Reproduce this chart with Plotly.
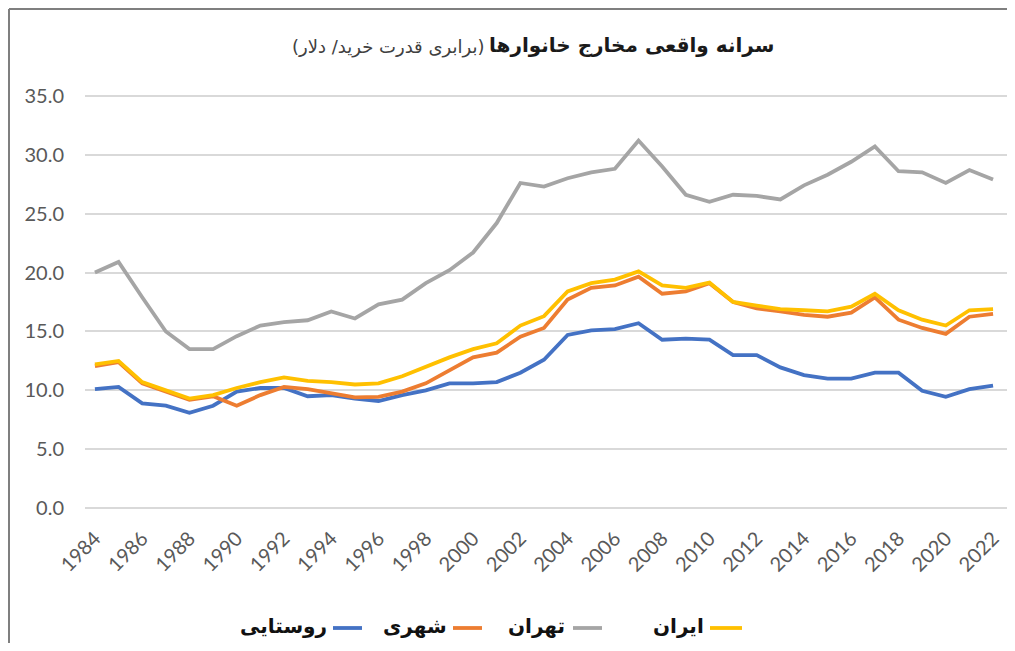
import plotly.graph_objects as go

years = [1984, 1985, 1986, 1987, 1988, 1989, 1990, 1991, 1992, 1993,
         1994, 1995, 1996, 1997, 1998, 1999, 2000, 2001, 2002, 2003,
         2004, 2005, 2006, 2007, 2008, 2009, 2010, 2011, 2012, 2013,
         2014, 2015, 2016, 2017, 2018, 2019, 2020, 2021, 2022]

iran = [12.2, 12.5, 10.7, 10.0, 9.3, 9.6, 10.2, 10.7, 11.1, 10.8,
        10.7, 10.5, 10.6, 11.2, 12.0, 12.8, 13.5, 14.0, 15.5, 16.3,
        18.4, 19.1, 19.4, 20.1, 18.9, 18.7, 19.15, 17.5, 17.2, 16.9,
        16.8, 16.7, 17.1, 18.2, 16.8, 16.0, 15.5, 16.8, 16.9]

tehran = [20.0, 20.9, 17.9, 15.0, 13.5, 13.5, 14.6, 15.5, 15.8, 15.95,
          16.7, 16.1, 17.3, 17.7, 19.1, 20.2, 21.7, 24.2, 27.6, 27.3,
          28.0, 28.5, 28.8, 31.2, 29.0, 26.6, 26.0, 26.6, 26.5, 26.2,
          27.4, 28.3, 29.4, 30.7, 28.6, 28.5, 27.6, 28.7, 27.9]

urban = [12.05, 12.4, 10.6, 9.9, 9.2, 9.5, 8.7, 9.6, 10.3, 10.1,
         9.75, 9.4, 9.45, 9.9, 10.6, 11.7, 12.8, 13.2, 14.55, 15.3,
         17.7, 18.7, 18.9, 19.65, 18.2, 18.4, 19.1, 17.5, 16.95, 16.7,
         16.4, 16.25, 16.6, 17.9, 16.0, 15.3, 14.8, 16.25, 16.5]

rural = [10.1, 10.3, 8.9, 8.7, 8.1, 8.7, 9.9, 10.2, 10.2, 9.5,
         9.6, 9.3, 9.1, 9.6, 10.0, 10.6, 10.6, 10.7, 11.5, 12.6,
         14.7, 15.1, 15.2, 15.7, 14.3, 14.4, 14.3, 13.0, 13.0, 11.95,
         11.3, 11.0, 11.0, 11.5, 11.5, 9.97, 9.46, 10.1, 10.4]

x_ticks = [1984, 1986, 1988, 1990, 1992, 1994, 1996, 1998, 2000, 2002,
           2004, 2006, 2008, 2010, 2012, 2014, 2016, 2018, 2020, 2022]
y_ticks = [0, 5, 10, 15, 20, 25, 30, 35]

colors = {"ایران": "#FFC000", "تهران": "#A5A5A5", "شهری": "#ED7D31", "روستایی": "#4472C4"}
series = {"ایران": iran, "تهران": tehran, "شهری": urban, "روستایی": rural}

title_main = "سرانه واقعی مخارج خانوارها"
title_sub = "(برابری قدرت خرید/ دلار)"

# page has an 8px body margin: figure origin sits at page (8, 8)
OFF = 8
W, H = 999, 635
L, R, T, B = 77, 0, 76, 123
PW, PH = W - L - R, H - T - B


def px(x_page):
    return (x_page - OFF - L) / PW


def py(y_page):
    return (H - B - (y_page - OFF)) / PH


fig = go.Figure()
for nm in ["تهران", "روستایی", "شهری", "ایران"]:
    fig.add_trace(go.Scatter(x=years, y=series[nm], mode="lines", name=nm,
                             line=dict(color=colors[nm], width=3.8),
                             showlegend=False))

shapes = [
    dict(type="line", xref="paper", yref="paper", x0=px(9), x1=px(9),
         y0=py(9), y1=py(H + 40), line=dict(color="#7f7f7f", width=2)),
    dict(type="line", xref="paper", yref="paper", x0=px(9), x1=px(W + 40),
         y0=py(9), y1=py(9), line=dict(color="#7f7f7f", width=2)),
]

annotations = [
    dict(text=f"<b>{title_main}</b>", x=px(776), y=py(45), xref="paper", yref="paper",
         xanchor="right", yanchor="middle", showarrow=False,
         font=dict(family="DejaVu Sans", size=20, color="#1a1a1a")),
    dict(text=title_sub, x=px(486), y=py(47), xref="paper", yref="paper",
         xanchor="right", yanchor="middle", showarrow=False,
         font=dict(family="DejaVu Sans", size=18, color="#404040")),
]

# custom legend (symbol to the right of the text, RTL style)
legend_items = [("ایران", 710, 742, 706), ("تهران", 573, 602, 567),
                ("شهری", 453, 482, 449), ("روستایی", 333, 362, 329)]
for nm, x0, x1, tx in legend_items:
    shapes.append(dict(type="line", xref="paper", yref="paper", x0=px(x0), x1=px(x1),
                       y0=py(628), y1=py(628), line=dict(color=colors[nm], width=3.8)))
    annotations.append(dict(text=f"<b>{nm}</b>", x=px(tx), y=py(626), xref="paper", yref="paper",
                            xanchor="right", yanchor="middle", showarrow=False,
                            font=dict(family="DejaVu Sans", size=20, color="#111111")))

fig.update_layout(
    width=W, height=H,
    margin=dict(l=L, r=R, t=T, b=B, autoexpand=False),
    paper_bgcolor="white", plot_bgcolor="white",
    shapes=shapes, annotations=annotations,
    xaxis=dict(range=[1983.58, 2022.59], tickmode="array", tickvals=x_ticks,
               ticktext=[str(v) for v in x_ticks], tickangle=-45,
               showgrid=False, zeroline=False, showline=False,
               ticks="", ticklabelstandoff=2,
               tickfont=dict(family="Lato", size=20, color="#595959")),
    yaxis=dict(range=[-1, 36], tickmode="array", tickvals=y_ticks,
               ticktext=[f"{v:.1f}" for v in y_ticks],
               showgrid=True, gridcolor="#d9d9d9", gridwidth=1.5,
               zeroline=False, showline=False, ticks="", ticklabelstandoff=20,
               tickfont=dict(family="Lato", size=20, color="#595959")),
)

fig.write_html("out.html")
